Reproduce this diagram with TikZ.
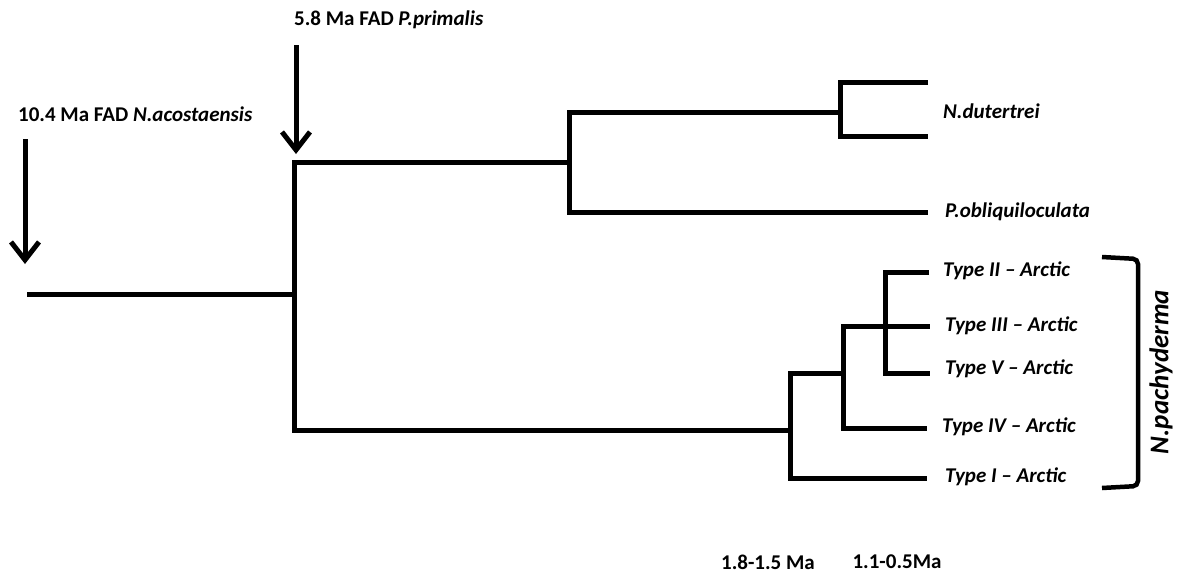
\documentclass[tikz,border=0pt]{standalone}
\usepackage{fontspec}
\setmainfont{Carlito}
\usetikzlibrary{arrows.meta}
\begin{document}
\begin{tikzpicture}[x=1pt,y=-1pt,
  branch/.style={line width=5pt,line join=miter},
  taxon/.style={anchor=west,inner sep=0pt,font=\fontsize{21}{23}\selectfont\bfseries\itshape},
  note/.style={inner sep=0pt,font=\fontsize{21}{23}\selectfont\bfseries},
  marker/.style={line width=5pt,-{Straight Barb[length=18pt,width=28pt,line width=5pt]}}]
\useasboundingbox (0,0) rectangle (1179,574);

% tree junctions
\coordinate (root) at (27,294);
\coordinate (n1) at (294,294);
\coordinate (n2) at (569,162);
\coordinate (n3) at (840,112);
\coordinate (n4) at (790,430);
\coordinate (n5) at (843,373);
\coordinate (n6) at (885,326);

% tip ends
\coordinate (t1) at (928,82);
\coordinate (t2) at (928,136);
\coordinate (t3) at (928,212);
\coordinate (t4) at (929,272);
\coordinate (t5) at (930,326);
\coordinate (t6) at (930,373);
\coordinate (t7) at (927,428);
\coordinate (t8) at (927,478);

% taxon labels
\node[taxon] (dut) at (943,111) {N.dutertrei};
\node[taxon] (obl) at (945,212) {P.obliquiloculata};
\node[taxon] (ty2) at (943,271) {Type II -- Arctic};
\node[taxon] (ty3) at (945,326) {Type III -- Arctic};
\node[taxon] (ty5) at (945,369) {Type V -- Arctic};
\node[taxon] (ty4) at (942,427) {Type IV -- Arctic};
\node[taxon] (ty1) at (945,477) {Type I -- Arctic};

% branches
\draw[branch] (root) -- (n1);
\draw[branch] (n2) -| (n1) |- (n4);
\draw[branch] (n3) -| (n2) |- (t3);
\draw[branch] (t1) -| (n3) |- (t2);
\draw[branch] (n5) -| (n4) |- (t8);
\draw[branch] (n6) -| (n5) |- (t7);
\draw[branch] (t4) -| (n6) |- (t6);
\draw[branch] (n6) -- (t5);

% N. pachyderma bracket
\coordinate (b1) at (1102,257);
\coordinate (b2) at (1102,488);
\draw[line width=4.5pt,rounded corners=5pt] (b1) -- (1138,259) -- (1138,486) -- (b2);
\node[inner sep=0pt,font=\fontsize{27}{29}\selectfont\bfseries\itshape,rotate=90] (pac) at (1161,372) {N.pachyderma};

% first appearance markers
\coordinate (a1s) at (25,139);
\coordinate (a1e) at (25,264);
\coordinate (a2s) at (296,45);
\coordinate (a2e) at (296,154);
\draw[marker] (a1s) -- (a1e);
\draw[marker] (a2s) -- (a2e);
\node[note,anchor=west] (fad1) at (18,114) {10.4 Ma FAD \textit{N.acostaensis}};
\node[note,anchor=west] (fad2) at (294,20) {5.8 Ma FAD \textit{P.primalis}};

% age labels
\node[note] (age1) at (768,562) {1.8-1.5 Ma};
\node[note] (age2) at (897,562) {1.1-0.5Ma};
\end{tikzpicture}
\end{document}
